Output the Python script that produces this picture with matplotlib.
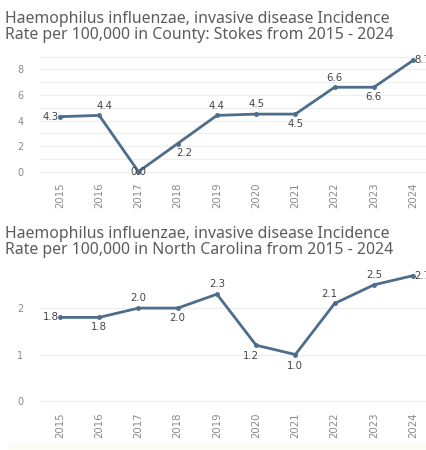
import matplotlib
matplotlib.use("Agg")
import matplotlib.pyplot as plt
from matplotlib.patches import Rectangle

years = ["2015", "2016", "2017", "2018", "2019", "2020", "2021", "2022", "2023", "2024"]
stokes = [4.3, 4.4, 0.0, 2.2, 4.4, 4.5, 4.5, 6.6, 6.6, 8.7]
nc = [1.8, 1.8, 2.0, 2.0, 2.3, 1.2, 1.0, 2.1, 2.5, 2.7]

title_top = "Haemophilus influenzae, invasive disease Incidence\nRate per 100,000 in County: Stokes from 2015 - 2024"
title_bot = "Haemophilus influenzae, invasive disease Incidence\nRate per 100,000 in North Carolina from 2015 - 2024"

# label placement offsets (points) for each point
off_top = [(-9, 0), (4, 7), (0, 0), (5, -7), (0, 7), (0, 7), (0, -7), (0, 7), (0, -7), (8, 0)]
off_bot = [(-9, 0), (0, -7), (0, 7), (0, -7), (0, 7), (-4, -8), (0, -8), (-4, 7), (0, 7), (8, 0)]

LINE = "#4e6d8c"
GRAY = "#8a8a8a"
TXT = "#5c5c5c"

fig = plt.figure(figsize=(4.26, 4.5), dpi=100)
fig.patch.set_facecolor("white")
fig.patches.append(Rectangle((8 / 426, 0), 1, 7 / 450, transform=fig.transFigure,
                             facecolor="#fcfcf7", edgecolor="none", zorder=0))


def draw(ax, vals, offs, ylim, yticks, grid):
    x = list(range(len(vals)))
    for g in grid:
        ax.axhline(g, color="#eeeeee", lw=0.8, zorder=0)
    ax.plot(x, vals, color=LINE, lw=2.0, marker="o", ms=2.5, zorder=3)
    for xi, v, (dx, dy) in zip(x, vals, offs):
        ha = "center"
        if dx < -5:
            ha = "right"
            dx = -1
        elif dx > 5:
            ha = "left"
            dx = 1
        ax.annotate(f"{v:.1f}", (xi, v), xytext=(dx, dy), textcoords="offset points",
                    ha=ha, va="center", fontsize=7.3, color="#444444", zorder=4,
                    annotation_clip=False)
    ax.set_xlim(-0.51, 9.33)
    ax.set_ylim(*ylim)
    ax.set_xticks(x)
    ax.set_xticklabels(years, rotation=90, fontsize=7.3, color=GRAY)
    ax.set_yticks(yticks)
    ax.set_yticklabels([str(t) for t in yticks], fontsize=7, color=GRAY)
    ax.tick_params(length=0, pad=5)
    ax.tick_params(axis="y", pad=12)
    for s in ax.spines.values():
        s.set_visible(False)
    ax.set_facecolor("none")


ax1 = fig.add_axes([40 / 426, 0.610, 1 - 40 / 426, 0.270])
draw(ax1, stokes, off_top, (-0.3, 9.2), [0, 2, 4, 6, 8], list(range(0, 10)))

ax2 = fig.add_axes([40 / 426, 0.0987, 1 - 40 / 426, 0.3146])
draw(ax2, nc, off_bot, (-0.1, 2.95), [0, 1, 2], [0, 1, 2])

fig.text(5 / 426, 1 - 11 / 450, title_top, ha="left", va="top", fontsize=11.4,
         color=TXT, linespacing=0.98, family="Noto Sans")
fig.text(5 / 426, 1 - 226 / 450, title_bot, ha="left", va="top", fontsize=11.4,
         color=TXT, linespacing=0.98, family="Noto Sans")

fig.savefig("out.png", dpi=100, facecolor="white")
